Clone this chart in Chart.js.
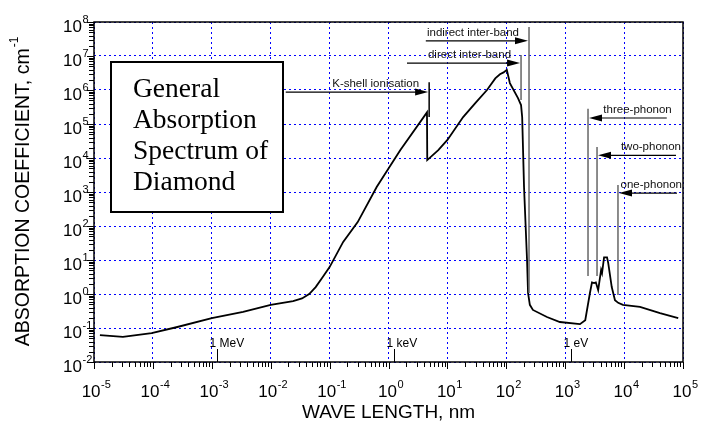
<!DOCTYPE html>
<html>
<head>
<meta charset="utf-8">
<script src="https://cdn.jsdelivr.net/npm/chart.js@4.4.1/dist/chart.umd.min.js"></script>
<style>
  html, body { margin: 0; padding: 0; background: #fff; }
</style>
</head>
<body>
<canvas id="spectrum" width="706" height="432"></canvas>
<script>
// wave length (nm) against absorption coefficient (cm^-1)
const wavelength = [1.26e-5, 3.1e-5, 9.5e-5, 2.6e-4, 1e-3, 3.4e-3, 1e-2, 2.4e-2, 3.4e-2, 4.5e-2, 5.8e-2, 7.5e-2,
  0.1, 0.17, 0.30, 0.63, 1.58, 4.5, 4.55, 7, 10, 18.5, 30, 47, 65, 78, 90, 102, 115, 158, 178, 186, 200,
  225, 234, 251, 283, 490, 813, 1780, 2190, 2630, 2850, 3090, 3310, 3630, 4070, 4220, 4570,
  5130, 5370, 6170, 7000, 7940, 9550, 1.86e4, 4.07e4, 8.3e4];
const absorption = [0.062, 0.055, 0.071, 0.107, 0.195, 0.30, 0.48, 0.62, 0.74, 1.0, 1.6, 3.0,
  6.2, 34, 130, 1400, 1.7e4, 2.2e5, 8.7e3, 1.7e4, 3.4e4, 1.6e5, 4.2e5, 1e6, 2.2e6, 2.9e6, 3.3e6, 3.9e6, 1.6e6, 5.8e5, 3.6e5, 1.6e5, 1400,
  10, 1.07, 0.48, 0.34, 0.21, 0.15, 0.13, 0.17, 1.07, 2.2, 2.1, 2.2, 1.3, 5.1, 4.1, 12,
  12, 8.2, 1.6, 0.66, 0.55, 0.48, 0.42, 0.275, 0.195];

// decade exponents used as tick labels
const xTickExps = [-5, -4, -3, -2, -1, 0, 1, 2, 3, 4, 5];
const yTickExps = [-2, -1, 0, 1, 2, 3, 4, 5, 6, 7, 8];

// photon energy markers along the bottom
const energyLabels = ['1 MeV', '1 keV', '1 eV'];
const energyWavelength = [1.24e-3, 1.24, 1240];

// absorption edges with their arrows
const edgeLabels = ['K-shell ionisation', 'direct inter-band', 'indirect inter-band', 'three-phonon', 'two-phonon', 'one-phonon'];
const edgeWavelength = [4.9, 178, 243, 2440, 3470, 7870];
const edgeLineTop = [1.7e6, 1.07e7, 7.1e7, 2.8e5, 2.1e4, 1600];
const edgeLineBottom = [1.6e5, 5.1e5, 1.07, 3.4, 3.4, 0.93];
const arrowLevel = [8.7e5, 6.2e6, 2.8e7, 1.5e5, 1.2e4, 930];
const arrowTail = [0.018, 2.06, 4.3, 5.3e4, 7.6e4, 7.9e4];

const boxLines = ['General', 'Absorption', 'Spectrum of', 'Diamond'];

const SANS = '"Liberation Sans", Arial, sans-serif';
const SERIF = '"Liberation Serif", "Times New Roman", serif';

function decades(exps) {
  return exps.map(e => ({ value: Math.pow(10, e) }));
}

function arrow(ctx, x1, x2, yy) {
  const dir = x2 > x1 ? 1 : -1;
  ctx.beginPath();
  ctx.moveTo(x1, yy);
  ctx.lineTo(x2 - dir * 10, yy);
  ctx.stroke();
  ctx.beginPath();
  ctx.moveTo(x2, yy);
  ctx.lineTo(x2 - dir * 13, yy - 3.5);
  ctx.lineTo(x2 - dir * 13, yy + 3.5);
  ctx.closePath();
  ctx.fill();
}

const decor = {
  id: 'decor',
  afterDraw(chart) {
    const { ctx, chartArea: a } = chart;
    const x = chart.scales.x, y = chart.scales.y;
    ctx.save();
    ctx.strokeStyle = '#000';
    ctx.fillStyle = '#000';

    // frame
    ctx.lineWidth = 1.5;
    ctx.strokeRect(a.left, a.top, a.right - a.left, a.bottom - a.top);

    // outside tick marks, minor ones at 2..9
    ctx.lineWidth = 1;
    ctx.beginPath();
    for (let i = 0; i < xTickExps.length; i++) {
      const d = Math.pow(10, xTickExps[i]);
      const px = Math.round(x.getPixelForValue(d)) + 0.5;
      ctx.moveTo(px, a.bottom); ctx.lineTo(px, a.bottom + 7);
      if (i < xTickExps.length - 1) {
        for (let k = 2; k <= 9; k++) {
          const mx = Math.round(x.getPixelForValue(k * d)) + 0.5;
          ctx.moveTo(mx, a.bottom); ctx.lineTo(mx, a.bottom + 5);
        }
      }
    }
    for (let i = 0; i < yTickExps.length; i++) {
      const d = Math.pow(10, yTickExps[i]);
      const py = Math.round(y.getPixelForValue(d)) + 0.5;
      ctx.moveTo(a.left, py); ctx.lineTo(a.left - 7, py);
      if (i < yTickExps.length - 1) {
        for (let k = 2; k <= 9; k++) {
          const my = Math.round(y.getPixelForValue(k * d)) + 0.5;
          ctx.moveTo(a.left, my); ctx.lineTo(a.left - 5, my);
        }
      }
    }
    ctx.stroke();

    // tick labels as 10 with a raised exponent
    ctx.textBaseline = 'alphabetic';
    yTickExps.forEach(e => {
      const py = y.getPixelForValue(Math.pow(10, e));
      ctx.font = '17px ' + SANS;
      ctx.textAlign = 'right';
      ctx.fillText('10', a.left - 12, py + 9.5);
      ctx.font = '11px ' + SANS;
      ctx.textAlign = 'left';
      ctx.fillText(String(e), a.left - 11.5, py + 1);
    });
    xTickExps.forEach(e => {
      const px = x.getPixelForValue(Math.pow(10, e));
      ctx.font = '17px ' + SANS;
      const w10 = ctx.measureText('10').width;
      ctx.font = '11px ' + SANS;
      const we = ctx.measureText(String(e)).width;
      const start = px - (w10 + we) / 2 + 2;
      ctx.textAlign = 'left';
      ctx.font = '17px ' + SANS;
      ctx.fillText('10', start, a.bottom + 35);
      ctx.font = '11px ' + SANS;
      ctx.fillText(String(e), start + w10 + 0.5, a.bottom + 26);
    });

    // axis titles
    ctx.font = '19px ' + SANS;
    ctx.textAlign = 'center';
    ctx.fillText('WAVE LENGTH, nm', (a.left + a.right) / 2, a.bottom + 56);

    ctx.save();
    ctx.translate(24, (a.top + a.bottom) / 2);
    ctx.rotate(-Math.PI / 2);
    ctx.font = '19.5px ' + SANS;
    const main = 'ABSORPTION COEFFICIENT, cm';
    const wm = ctx.measureText(main).width;
    ctx.font = '12px ' + SANS;
    const ws = ctx.measureText('-1').width;
    const s0 = -(wm + ws) / 2;
    ctx.textAlign = 'left';
    ctx.textBaseline = 'middle';
    ctx.font = '19.5px ' + SANS;
    ctx.fillText(main, s0, 0);
    ctx.font = '12px ' + SANS;
    ctx.fillText('-1', s0 + wm + 1, -9);
    ctx.restore();

    // energy markers inside the plot
    ctx.lineWidth = 1;
    ctx.font = '12px ' + SANS;
    ctx.textAlign = 'left';
    ctx.textBaseline = 'alphabetic';
    energyLabels.forEach((lab, i) => {
      const px = Math.round(x.getPixelForValue(energyWavelength[i])) + 0.5;
      ctx.beginPath();
      ctx.moveTo(px, a.bottom);
      ctx.lineTo(px, a.bottom - 13);
      ctx.stroke();
      ctx.fillText(lab, px - 8, a.bottom - 15);
    });

    // edge annotations
    edgeLabels.forEach((lab, i) => {
      const ex = x.getPixelForValue(edgeWavelength[i]);
      const tx = x.getPixelForValue(arrowTail[i]);
      const ay = y.getPixelForValue(arrowLevel[i]);
      ctx.strokeStyle = i === 0 ? '#000' : '#666';
      ctx.lineWidth = 1.5;
      ctx.beginPath();
      ctx.moveTo(ex, y.getPixelForValue(edgeLineTop[i]));
      ctx.lineTo(ex, y.getPixelForValue(edgeLineBottom[i]));
      ctx.stroke();
      ctx.strokeStyle = '#000';
      ctx.lineWidth = 1.2;
      const right = tx < ex;
      const tip = right ? ex - 1 : ex + 1;
      arrow(ctx, tx, tip, ay);
      ctx.font = '11.5px ' + SANS;
      ctx.textAlign = 'right';
      ctx.fillStyle = '#111';
      ctx.fillText(lab, right ? tip - 9 : tx + 5, ay - 5);
      ctx.fillStyle = '#000';
    });

    // title box
    const bx = 111, by = 62, bw = 172, bh = 150;
    ctx.fillStyle = '#fff';
    ctx.fillRect(bx, by, bw, bh);
    ctx.strokeStyle = '#000';
    ctx.lineWidth = 2;
    ctx.strokeRect(bx, by, bw, bh);
    ctx.fillStyle = '#000';
    ctx.font = '27.5px ' + SERIF;
    ctx.textAlign = 'left';
    boxLines.forEach((t, i) => ctx.fillText(t, bx + 22, by + 35 + i * 31));

    ctx.restore();
  }
};

new Chart(document.getElementById('spectrum'), {
  type: 'line',
  data: {
    datasets: [{
      label: 'Diamond',
      data: wavelength.map((w, i) => ({ x: w, y: absorption[i] })),
      borderColor: '#000',
      borderWidth: 1.8,
      pointRadius: 0,
      fill: false,
      tension: 0
    }]
  },
  options: {
    responsive: false,
    animation: false,
    devicePixelRatio: 1,
    layout: { padding: { left: 94, top: 22, right: 23, bottom: 70 } },
    plugins: { legend: { display: false }, tooltip: { enabled: false } },
    scales: {
      x: {
        type: 'logarithmic',
        min: 1e-5,
        max: 1e5,
        afterBuildTicks: s => { s.ticks = decades(xTickExps); },
        ticks: { display: false },
        grid: { color: '#0000ff', lineWidth: 1, drawTicks: false },
        border: { display: false, dash: [2, 3] }
      },
      y: {
        type: 'logarithmic',
        min: 1e-2,
        max: 1e8,
        afterBuildTicks: s => { s.ticks = decades(yTickExps); },
        ticks: { display: false },
        grid: { color: '#0000ff', lineWidth: 1, drawTicks: false },
        border: { display: false, dash: [2, 3] }
      }
    }
  },
  plugins: [decor]
});
</script>
</body>
</html>
